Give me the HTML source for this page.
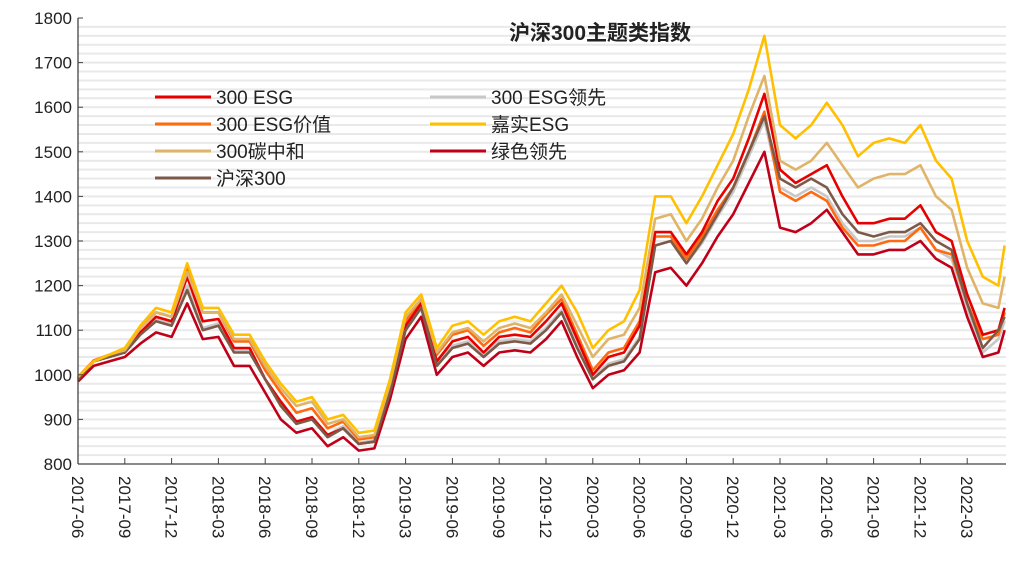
<!DOCTYPE html>
<html><head><meta charset="utf-8"><style>
body{margin:0;background:#fff;}
svg text{font-family:"Liberation Sans","Noto Sans CJK SC",sans-serif;fill:#222;}
</style></head><body>
<svg id="chart" width="1011" height="573" viewBox="0 0 1011 573">
<g id="stripes"></g>
<g id="series"></g>
<line x1="78" y1="18" x2="78" y2="464" stroke="#444" stroke-width="1.3"/>
<line x1="78" y1="464" x2="1006" y2="464" stroke="#444" stroke-width="1.3"/>
<g id="yticks"></g>
<g id="xticks"></g>
<text x="600" y="40" text-anchor="middle" font-size="21" font-weight="bold">沪深300主题类指数</text>
<g id="legend"></g>
</svg>
<script>
const yTicks=[800,900,1000,1100,1200,1300,1400,1500,1600,1700,1800];
const xTickLabels=["2017-06","2017-09","2017-12","2018-03","2018-06","2018-09","2018-12","2019-03","2019-06","2019-09","2019-12","2020-03","2020-06","2020-09","2020-12","2021-03","2021-06","2021-09","2021-12","2022-03"];
const names=["300 ESG","300 ESG领先","300 ESG价值","嘉实ESG","300碳中和","绿色领先","沪深300"];
const s300esg=[992,1030,1042,1050,1095,1130,1120,1220,1120,1125,1060,1060,990,940,895,905,865,880,845,850,965,1110,1160,1030,1075,1085,1050,1085,1090,1085,1120,1160,1080,1000,1040,1050,1110,1320,1320,1270,1320,1390,1440,1530,1630,1460,1430,1450,1470,1400,1340,1340,1350,1350,1380,1320,1300,1180,1090,1100,1150];
const s300esgLead=[990,1030,1040,1050,1092,1125,1115,1200,1105,1115,1055,1055,990,935,895,905,865,885,848,853,965,1105,1155,1025,1065,1075,1045,1075,1080,1075,1105,1145,1065,995,1025,1035,1085,1290,1300,1250,1295,1355,1410,1490,1570,1420,1400,1420,1400,1340,1300,1300,1310,1310,1330,1280,1260,1150,1050,1080,1120];
const s300esgValue=[995,1032,1045,1055,1105,1140,1130,1240,1140,1140,1075,1075,1010,960,915,925,880,895,855,860,975,1120,1170,1045,1090,1100,1065,1095,1105,1095,1135,1170,1090,1010,1050,1060,1120,1310,1310,1260,1310,1370,1420,1500,1590,1410,1390,1410,1390,1330,1290,1290,1300,1300,1330,1280,1270,1160,1080,1090,1140];
const sJiashi=[995,1030,1045,1060,1110,1150,1140,1250,1150,1150,1090,1090,1030,980,940,950,900,910,870,875,990,1140,1180,1060,1110,1120,1090,1120,1130,1120,1160,1200,1140,1060,1100,1120,1190,1400,1400,1340,1400,1470,1540,1640,1760,1560,1530,1560,1610,1560,1490,1520,1530,1520,1560,1480,1440,1300,1220,1200,1290];
const sCarbon=[995,1030,1045,1055,1105,1140,1130,1230,1140,1140,1080,1080,1020,970,930,940,890,900,860,865,980,1130,1170,1050,1095,1105,1075,1105,1115,1105,1140,1180,1110,1040,1080,1090,1150,1350,1360,1300,1350,1420,1480,1580,1670,1480,1460,1480,1520,1470,1420,1440,1450,1450,1470,1400,1370,1240,1160,1150,1220];
const sGreen=[985,1020,1030,1040,1070,1095,1085,1160,1080,1085,1020,1020,960,900,870,880,840,860,830,835,945,1080,1130,1000,1040,1050,1020,1050,1055,1050,1080,1120,1040,970,1000,1010,1050,1230,1240,1200,1250,1310,1360,1430,1500,1330,1320,1340,1370,1320,1270,1270,1280,1280,1300,1260,1240,1130,1040,1050,1100];
const sHS300=[990,1030,1040,1050,1090,1120,1110,1190,1100,1110,1050,1050,990,930,890,900,860,880,845,850,960,1100,1150,1020,1060,1070,1040,1070,1075,1070,1100,1140,1060,990,1020,1030,1080,1290,1300,1250,1300,1360,1420,1500,1580,1440,1420,1440,1420,1360,1320,1310,1320,1320,1340,1300,1280,1160,1060,1100,1130];

const NS="http://www.w3.org/2000/svg";
const X0=78,MPX=15.6,Y0=464,Y1=18,VMIN=800,VMAX=1800;
function xScale(m){return X0+m*MPX;}
function yScale(v){return Y0-(v-VMIN)/(VMAX-VMIN)*(Y0-Y1);}
function monthOf(i,n){return i<n-1?i:59.4;}
function mk(tag,attrs,parent){const e=document.createElementNS(NS,tag);for(const k in attrs)e.setAttribute(k,attrs[k]);parent.appendChild(e);return e;}

const stripes=document.getElementById('stripes');
for(let v=VMIN+20;v<VMAX;v+=20){
  const l=mk('line',{x1:X0,x2:1006,y1:yScale(v),y2:yScale(v),stroke:'#e9e9e9','stroke-width':2},stripes);
  
  
}
const yt=document.getElementById('yticks');
yTicks.forEach(v=>{
  const t=mk('text',{x:72,y:yScale(v)+6,'text-anchor':'end','font-size':17},yt);
  t.textContent=v;
  
  
  const l=mk('line',{x1:X0,x2:X0+5,y1:yScale(v),y2:yScale(v),stroke:'#444'},yt);
  
  
});
const xt=document.getElementById('xticks');
xTickLabels.forEach((s,i)=>{
  const x=xScale(i*3);
  const l=mk('line',{x1:x,x2:x,y1:Y0,y2:Y0-6,stroke:'#444'},xt);
  
  
  const t=mk('text',{x:0,y:0,'font-size':17,transform:`translate(${x-6},${Y0+12}) rotate(90)`},xt);
  t.textContent=s;
  
  
});
const colors={"300 ESG":"#e60000","300 ESG领先":"#c8c8c8","300 ESG价值":"#ff6a10","嘉实ESG":"#ffc000","300碳中和":"#e0b468","绿色领先":"#c00018","沪深300":"#7d5a48"};
const dataMap={"300 ESG":s300esg,"300 ESG领先":s300esgLead,"300 ESG价值":s300esgValue,"嘉实ESG":sJiashi,"300碳中和":sCarbon,"绿色领先":sGreen,"沪深300":sHS300};
const order=["300 ESG领先","绿色领先","300 ESG价值","300 ESG","沪深300","300碳中和","嘉实ESG"];
const sg=document.getElementById('series');
order.forEach(n=>{
  const d=dataMap[n];
  const pts=d.map((v,i)=>xScale(monthOf(i,d.length)).toFixed(1)+','+yScale(v).toFixed(1)).join(' ');
  const p=mk('polyline',{points:pts,fill:'none',stroke:colors[n],'stroke-width':2.6,'stroke-linejoin':'round'},sg);
  
  
});
const lg=document.getElementById('legend');
const pos=[[155,97],[430,97],[155,124],[430,124],[155,151],[430,151],[155,178]];
names.forEach((n,i)=>{
  const [x,y]=pos[i];
  const g=mk('g',{},lg);
  
  
  mk('line',{x1:x,x2:x+56,y1:y,y2:y,stroke:colors[n],'stroke-width':3},g);
  const t=mk('text',{x:x+61,y:y+7,'font-size':19},g);
  t.textContent=n;
});
</script>
</body></html>
